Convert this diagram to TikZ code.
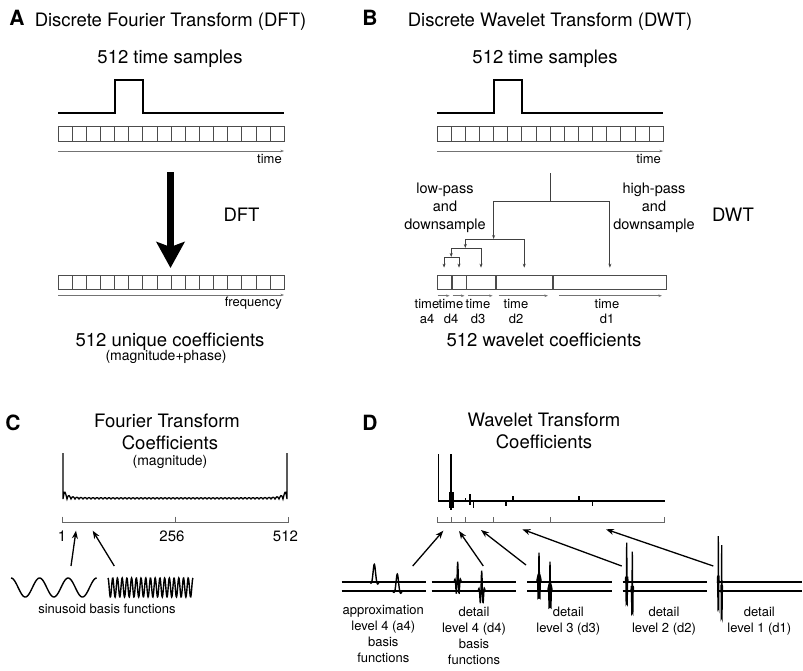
\documentclass[tikz,border=0pt]{standalone}
\usepackage{fontspec}
\setmainfont{TeX Gyre Heros}
\usetikzlibrary{arrows.meta, calc, positioning}
\tikzset{
    signal/.style={line width=1.8pt, line join=miter},
    cellrow/.style={draw=black!70, line width=0.8pt},
    cell/.style={draw=black!70, line width=0.8pt, minimum height=14.3pt},
    timeaxis/.style={draw=black!55, line width=0.7pt, -{Stealth[length=3.5pt,width=2.6pt]}},
    treeline/.style={draw=black!75, line width=0.8pt},
    treearrow/.style={treeline, -{Stealth[length=4pt,width=3pt]}},
    bigarrow/.style={line width=7pt, -{Stealth[length=26pt,width=28pt,inset=5pt]}},
    basisarrow/.style={line width=1.3pt, -{Stealth[length=8pt,width=6pt]}},
    tickaxis/.style={draw=black!60, line width=0.8pt},
    panel/.style={font=\fontsize{21}{24}\selectfont\bfseries},
    ttl/.style={font=\fontsize{18.5}{22}\selectfont},
    midtxt/.style={font=\fontsize{14.5}{18}\selectfont, align=center},
    note/.style={font=\fontsize{14}{16}\selectfont},
    axlbl/.style={font=\fontsize{13}{15}\selectfont, align=center},
    basislbl/.style={font=\fontsize{13}{15.8}\selectfont, align=center},
    pics/wlet/.style 2 args={code={
        \draw[line width=1.3pt] plot[domain=-3*#2:3*#2, samples=41] (\x, {-#1*exp(-(\x/#2)^2)*cos(240*(\x/#2))});
    }},
    pics/scal/.style={code={
        \draw[line width=1.4pt] plot[domain=-7:7, samples=71, smooth] (\x, {-#1*(exp(-(\x/1.6)^2) - 0.15*exp(-((\x-3.2)/1.2)^2) - 0.1*exp(-((\x+3)/1.2)^2))});
    }}
}

\begin{document}
\begin{tikzpicture}[x=1pt, y=-1pt, every node/.style={inner sep=0pt}]
    \useasboundingbox (0,0) rectangle (803,670);
    \def\cw{14.14}

    % A: DFT
    \node[panel, anchor=base] (pA) at (17,25.5) {A};
    \node[ttl, anchor=base] (tA) at (170.5,26.5) {Discrete Fourier Transform (DFT)};
    \node[ttl, anchor=base] (sA) at (170,63.5) {512 time samples};
    \draw[signal] (58,113) -- (114.6,113) -- (114.6,80) -- (142.8,80) -- (142.8,113) -- (284,113);
    \foreach \i in {0,...,15} \draw[cellrow] (58+\i*\cw,126) rectangle ++(\cw,15);
    \draw[timeaxis] (58,151) -- (284,151);
    \node[axlbl, anchor=base east] (timeA) at (282,163) {time};
    \coordinate (dfttop) at (170.5,172);
    \coordinate (dftbot) at (170.5,268);
    \draw[bigarrow] (dfttop) -- (dftbot);
    \node[ttl, anchor=base] (dftA) at (241.5,221.7) {DFT};
    \foreach \i in {0,...,15} \draw[cellrow] (58+\i*\cw,275) rectangle ++(\cw,14.3);
    \draw[timeaxis] (58,295) -- (284,295);
    \node[axlbl, anchor=base east] (freqA) at (282,306) {frequency};
    \node[ttl, anchor=base] (cA) at (170,346.5) {512 unique coefficients};
    \node[note, anchor=base] (mA) at (166,360) {(magnitude+phase)};

    % B: DWT
    \node[panel, anchor=base] (pB) at (370,25.5) {B};
    \node[ttl, anchor=base] (tB) at (550,26.5) {Discrete Wavelet Transform (DWT)};
    \node[ttl, anchor=base] (sB) at (545,63.5) {512 time samples};
    \draw[signal] (437,113) -- (493.6,113) -- (493.6,80) -- (521.9,80) -- (521.9,113) -- (663,113);
    \foreach \i in {0,...,15} \draw[cellrow] (437+\i*\cw,126) rectangle ++(\cw,15);
    \draw[timeaxis] (437,151) -- (663,151);
    \node[axlbl, anchor=base east] (timeB) at (661,163) {time};
    \node[cell, minimum width=\cw pt] (a4) at (444.07,282.2) {};
    \node[cell, minimum width=\cw pt, right=0pt of a4] (d4) {};
    \node[cell, minimum width=2*\cw pt, right=0pt of d4] (d3) {};
    \node[cell, minimum width=4*\cw pt, right=0pt of d3] (d2) {};
    \node[cell, minimum width=8*\cw pt, right=0pt of d2] (d1) {};
    \coordinate (top) at (550.2,173);
    \coordinate (j1) at (550.2,201);
    \coordinate (j2) at (493.6,239);
    \coordinate (j3) at (465.3,248);
    \coordinate (j4) at (451.2,257);
    \draw[treeline] (top) -- (j1);
    \draw[treearrow, shorten >=7pt] (j1) -| (d1.north);
    \draw[treearrow] (j1) -| (j2);
    \draw[treearrow, shorten >=7pt] (j2) -| (d2.north);
    \draw[treearrow] (j2) -| (j3);
    \draw[treearrow, shorten >=7pt] (j3) -| (d3.north);
    \draw[treearrow] (j3) -| (j4);
    \draw[treearrow, shorten >=7pt] (j4) -| (d4.north);
    \draw[treearrow, shorten >=7pt] (j4) -| (a4.north);
    \node[midtxt, anchor=base] (lowB) at (445,229.3) {low-pass\\and\\downsample};
    \node[midtxt, anchor=base] (highB) at (654,229.3) {high-pass\\and\\downsample};
    \node[ttl, anchor=base] (dwtB) at (733,221.7) {DWT};
    \foreach \c/\l/\r in {a4/1/2, d4/1/2, d3/2/3, d2/3/5, d1/6/5}
        \draw[timeaxis] ($(\c.south west)+(\l,6)$) -- ($(\c.south east)+(-\r,6)$);
    \node[axlbl, anchor=base] (ta4) at (427,323.3) {time\\a4};
    \node[axlbl, anchor=base] (td4) at (451,323.3) {time\\d4};
    \node[axlbl, anchor=base] (td3) at (478,323.3) {time\\d3};
    \node[axlbl, anchor=base] (td2) at (516,323.3) {time\\d2};
    \node[axlbl, anchor=base] (td1) at (607,323.3) {time\\d1};
    \node[ttl, anchor=base] (cB) at (544,346) {512 wavelet coefficients};

    % C: Fourier coefficients
    \node[panel, anchor=base] (pC) at (13,430) {C};
    \node[ttl, anchor=base] (tC) at (167,427.7) {Fourier Transform};
    \node[ttl, anchor=base] (tC2) at (170,449.3) {Coefficients};
    \node[note, anchor=base] (mC) at (170,465.5) {(magnitude)};
    \draw[line width=1.3pt] (63,453) -- plot[domain=63:287, samples=449] (\x, {499 - (1.2 + 7/(1+((\x-63)/4)^2) + 7/(1+((287-\x)/4)^2))*abs(sin(45*(\x-63)))}) -- (287,453);
    \draw[tickaxis] (62,516.5) -- (62,522.7) -- (288,522.7) -- (288,516.5) (175,516.5) -- (175,522.7);
    \node[note, font=\fontsize{15}{18}\selectfont, anchor=base] (x1) at (62,541.7) {1};
    \node[note, font=\fontsize{15}{18}\selectfont, anchor=base] (x256) at (172,541.7) {256};
    \node[note, font=\fontsize{15}{18}\selectfont, anchor=base] (x512) at (285.5,541.7) {512};
    \draw[line width=1.4pt] plot[domain=11:96.7, samples=120, smooth] (\x, {587.5 - 9.5*cos(360*((\x-11)/28.57))});
    \draw[line width=1.4pt] plot[domain=108:193, samples=300] (\x, {587.5 - 9.5*cos(360*((\x-108)/4.72))});
    \coordinate (s1) at (71,566);
    \coordinate (f1) at (76,530.7);
    \coordinate (s2) at (114.3,566);
    \coordinate (f2) at (92.7,530.7);
    \draw[basisarrow] (s1) -- (f1);
    \draw[basisarrow] (s2) -- (f2);
    \node[basislbl, anchor=base] (sinC) at (107,613) {sinusoid basis functions};

    % D: wavelet coefficients
    \node[panel, anchor=base] (pD) at (370,430) {D};
    \node[ttl, anchor=base] (tD) at (544,426.7) {Wavelet Transform};
    \node[ttl, anchor=base] (tD2) at (544,448.5) {Coefficients};
    \draw[line width=1.5pt] (438.3,454) -- (438.3,501) -- (665,501);
    \draw[line width=1.5pt] (451,454) -- (451,510);
    \fill (449.3,492) rectangle (453.7,508);
    \foreach \px/\ya/\yb in {465.7/498/501, 470/494/505, 473.3/501/508, 506/501/506, 513/496/502, 579/496/501, 592.7/501/506}
        \draw[line width=1.5pt] (\px,\ya) -- (\px,\yb);
    \draw[tickaxis] (437.3,522.7) -- (664.3,522.7);
    \foreach \px in {437.3, 451.2, 465.3, 493.6, 550.2, 664.3}
        \draw[tickaxis] (\px,517) -- (\px,522.7);
    % basis functions
    \foreach \xa/\xb in {341.7/426, 431.7/516, 527.3/611.7, 622.7/706.7, 716.7/801.7} {
        \draw[line width=1.6pt] (\xa,581.7) -- (\xb,581.7);
        \draw[line width=1.6pt] (\xa,591) -- (\xb,591);
    }
    \pic at (374.3,581.7) {scal=17.4};
    \pic at (397.3,591) {scal=17};
    \pic at (457.7,581.7) {wlet={20}{2}};
    \pic at (481.7,591) {wlet={20.3}{2}};
    \pic at (539,581.7) {wlet={29}{1.2}};
    \pic at (550,591) {wlet={29.3}{1.2}};
    \pic at (626.7,581.7) {wlet={39}{0.7}};
    \pic at (632.3,591) {wlet={39.3}{0.7}};
    \pic at (718.3,581.7) {wlet={45.7}{0.45}};
    \pic at (721.7,591) {wlet={46}{0.45}};
    \coordinate (w1) at (443.3,530.7);
    \coordinate (w2) at (459,531);
    \coordinate (w3) at (481,530);
    \coordinate (w4) at (522.3,529.3);
    \coordinate (w5) at (606,529.3);
    \coordinate (b1) at (412.7,566);
    \coordinate (b2) at (483.3,566);
    \coordinate (b3) at (526,565);
    \coordinate (b4) at (621.7,566);
    \coordinate (b5) at (713.3,566);
    \foreach \i in {1,...,5} \draw[basisarrow] (b\i) -- (w\i);
    \node[basislbl, anchor=base] (la4) at (383.3,662) {approximation\\level 4 (a4)\\basis\\functions};
    \node[basislbl, anchor=base] (ld4) at (474,664) {detail\\level 4 (d4)\\basis\\functions};
    \node[basislbl, anchor=base] (ld3) at (568.3,632.3) {detail\\level 3 (d3)};
    \node[basislbl, anchor=base] (ld2) at (664,632.3) {detail\\level 2 (d2)};
    \node[basislbl, anchor=base] (ld1) at (759.3,632.3) {detail\\level 1 (d1)};
\end{tikzpicture}
\end{document}
